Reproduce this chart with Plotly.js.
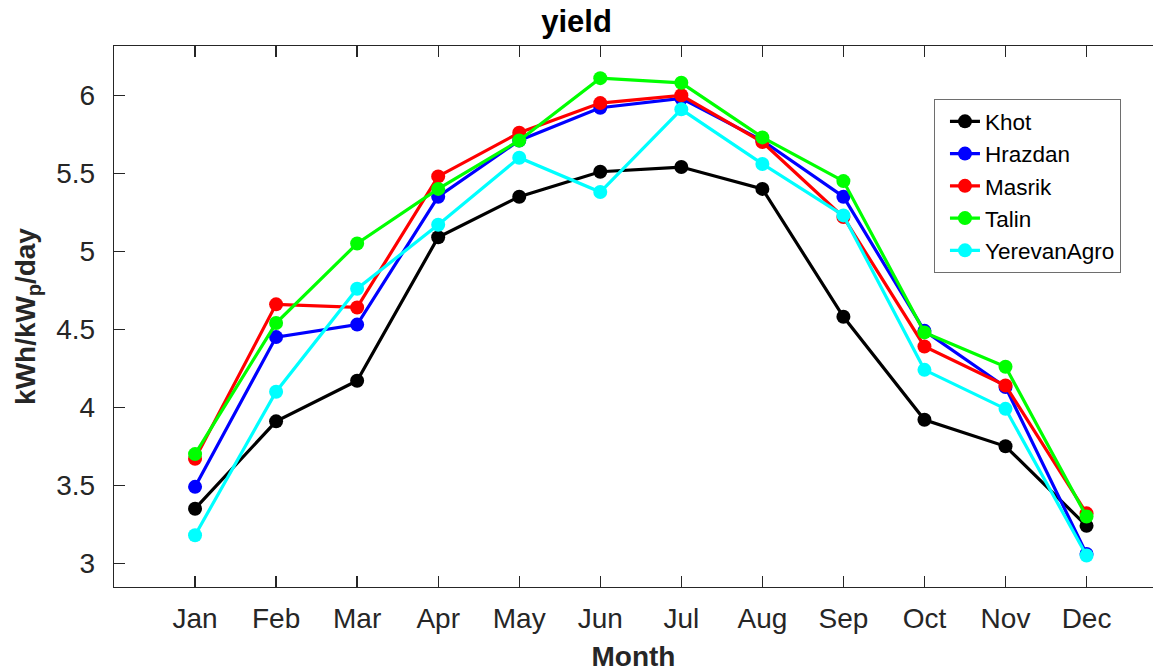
<!DOCTYPE html>
<html>
<head>
<meta charset="utf-8">
<script src="https://cdn.plot.ly/plotly-3.0.1.min.js"></script>
<style>html,body{margin:0;padding:0;background:#fff;}#chart{width:1153px;height:672px;}</style>
</head>
<body>
<div id="chart"></div>
<script>
const months = ["Jan","Feb","Mar","Apr","May","Jun","Jul","Aug","Sep","Oct","Nov","Dec"];
const monthIndex = [1,2,3,4,5,6,7,8,9,10,11,12];
const khot        = [3.35, 3.91, 4.17, 5.09, 5.35, 5.51, 5.54, 5.40, 4.58, 3.92, 3.75, 3.24];
const hrazdan     = [3.49, 4.45, 4.53, 5.35, 5.71, 5.92, 5.98, 5.71, 5.35, 4.49, 4.13, 3.06];
const masrik      = [3.67, 4.66, 4.64, 5.48, 5.76, 5.95, 6.00, 5.70, 5.22, 4.39, 4.14, 3.32];
const talin       = [3.70, 4.54, 5.05, 5.40, 5.71, 6.11, 6.08, 5.73, 5.45, 4.48, 4.26, 3.30];
const yerevanAgro = [3.18, 4.10, 4.76, 5.17, 5.60, 5.38, 5.91, 5.56, 5.23, 4.24, 3.99, 3.05];

const seriesNames = ["Khot","Hrazdan","Masrik","Talin","YerevanAgro"];
const seriesValues = [khot, hrazdan, masrik, talin, yerevanAgro];
const seriesColors = ["#000000","#0000ff","#ff0000","#00ff00","#00ffff"];

const font = "Liberation Sans, Arial, sans-serif";
const traces = seriesNames.map((n, i) => ({
  x: monthIndex, y: seriesValues[i], name: n, type: "scatter", mode: "lines+markers",
  line: {color: seriesColors[i], width: 3.2},
  marker: {color: seriesColors[i], size: 14}
}));

const layout = {
  width: 1153, height: 672,
  margin: {l: 114, r: 0, t: 46, b: 85},
  paper_bgcolor: "#ffffff", plot_bgcolor: "#ffffff",
  showlegend: true,
  title: {text: "<b>yield</b>", font: {family: font, size: 31, color: "#000"}, x: 0.5, xref: "container", xanchor: "center", y: 1 - 21/672, yref: "container", yanchor: "middle"},
  xaxis: {
    range: [0, 12.82], tickvals: monthIndex, ticktext: months,
    ticks: "inside", ticklen: 11, tickwidth: 1.3, tickcolor: "#262626",
    showline: true, linecolor: "#262626", linewidth: 1.3, mirror: "ticks",
    showgrid: false, zeroline: false,
    tickfont: {family: font, size: 28, color: "#262626"}, ticklabelstandoff: 6,
    title: {text: "<b>Month</b>", font: {family: font, size: 28, color: "#262626"}, standoff: 13},
    automargin: false
  },
  yaxis: {
    range: [2.848, 6.316], tickvals: [3, 3.5, 4, 4.5, 5, 5.5, 6], ticktext: ["3","3.5","4","4.5","5","5.5","6"],
    ticks: "inside", ticklen: 11, tickwidth: 1.3, tickcolor: "#262626",
    showline: true, linecolor: "#262626", linewidth: 1.3, mirror: false,
    showgrid: false, zeroline: false,
    tickfont: {family: font, size: 28, color: "#262626"}, ticklabelstandoff: 12,
    title: {text: "<b>kWh/kW<sub>p</sub>/day</b>", font: {family: font, size: 28, color: "#262626"}, standoff: 12},
    automargin: false
  },
  legend: {
    x: 0.789, xanchor: "left", y: 0.902, yanchor: "top",
    bgcolor: "#ffffff", bordercolor: "#6e6e6e", borderwidth: 1.2,
    font: {family: font, size: 22.5, color: "#000"},
    tracegroupgap: 0, indentation: 10
  }
};
Plotly.newPlot("chart", traces, layout, {displayModeBar: false, staticPlot: true});
</script>
</body>
</html>
